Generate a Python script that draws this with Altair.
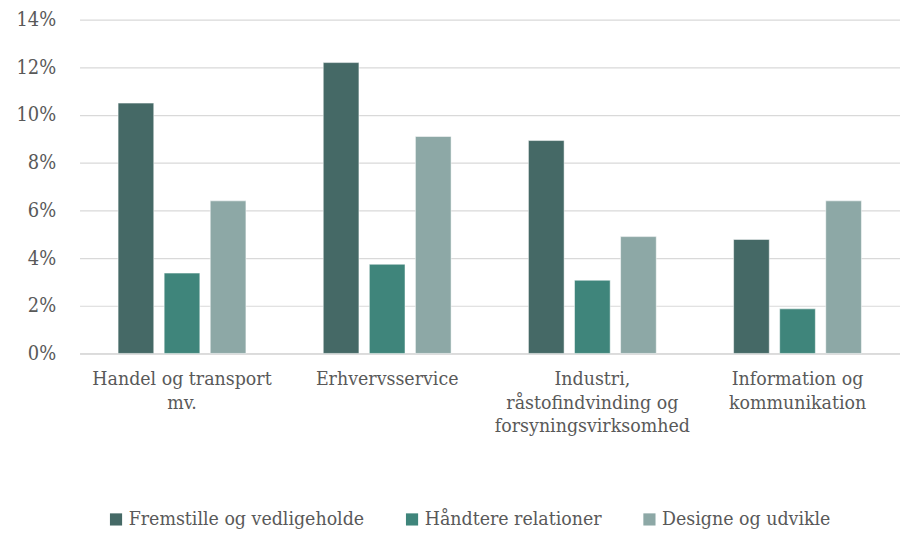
import altair as alt
import pandas as pd

categories = ["Handel og transport mv.", "Erhvervsservice",
              "Industri, råstofindvinding og forsyningsvirksomhed",
              "Information og kommunikation"]
label_lines = {
    "Handel og transport mv.": ["Handel og transport", "mv."],
    "Erhvervsservice": ["Erhvervsservice"],
    "Industri, råstofindvinding og forsyningsvirksomhed": ["Industri,", "råstofindvinding og", "forsyningsvirksomhed"],
    "Information og kommunikation": ["Information og", "kommunikation"],
}
series = ["Fremstille og vedligeholde", "Håndtere relationer", "Designe og udvikle"]
colors = ["#456966", "#3f857b", "#8da8a6"]
fremstille = [0.105, 0.122, 0.0893, 0.0478]
handtere = [0.0337, 0.0374, 0.0307, 0.0187]
designe = [0.064, 0.091, 0.049, 0.064]

rows = []
for i, c in enumerate(categories):
    for s, vals in zip(series, [fremstille, handtere, designe]):
        rows.append({"Branche": c, "Serie": s, "Andel": vals[i]})
df = pd.DataFrame(rows)

expr = ""
for c, lines in label_lines.items():
    arr = "[" + ", ".join("'" + l + "'" for l in lines) + "]"
    expr += f"datum.value == '{c}' ? {arr} : "
expr += "datum.value"

FONT = "DejaVu Serif Condensed"
chart = alt.Chart(df).mark_bar(stroke="white", strokeWidth=0.5).encode(
    x=alt.X("Branche:N", sort=categories, title=None,
            scale=alt.Scale(paddingInner=0.377, paddingOuter=0.188),
            axis=alt.Axis(labelAngle=0, labelExpr=expr, labelFont=FONT, labelFontSize=19.5,
                          labelColor="#595959", labelLineHeight=24, labelPadding=16,
                          labelBaseline="top", ticks=False, domainColor="#d9d9d9",
                          domainWidth=1.5, labelLimit=300)),
    xOffset=alt.XOffset("Serie:N", sort=series,
                        scale=alt.Scale(paddingInner=0.226, paddingOuter=0)),
    y=alt.Y("Andel:Q", title=None,
            scale=alt.Scale(domain=[0, 0.14]),
            axis=alt.Axis(format=".0%", values=[0, 0.02, 0.04, 0.06, 0.08, 0.1, 0.12, 0.14],
                          labelFont=FONT, labelFontSize=20, labelColor="#595959",
                          ticks=False, domain=False, labelPadding=24,
                          gridColor="#d9d9d9", gridWidth=1.2)),
    color=alt.Color("Serie:N", sort=series, title=None,
                    scale=alt.Scale(domain=series, range=colors),
                    legend=alt.Legend(orient="none", legendX=27, legendY=493,
                                      direction="horizontal", symbolType="square",
                                      symbolSize=150, symbolStrokeWidth=0,
                                      labelFont=FONT, labelFontSize=19.5,
                                      labelColor="#595959", columnPadding=38,
                                      labelOffset=3, labelLimit=400)),
).properties(
    width=826, height=336,
    autosize=alt.AutoSizeParams(type="none"),
    padding={"left": 72, "top": 10, "right": 0, "bottom": 177},
).configure_view(stroke=None)

chart.save("out.html", embed_options={"renderer": "svg", "actions": False})
